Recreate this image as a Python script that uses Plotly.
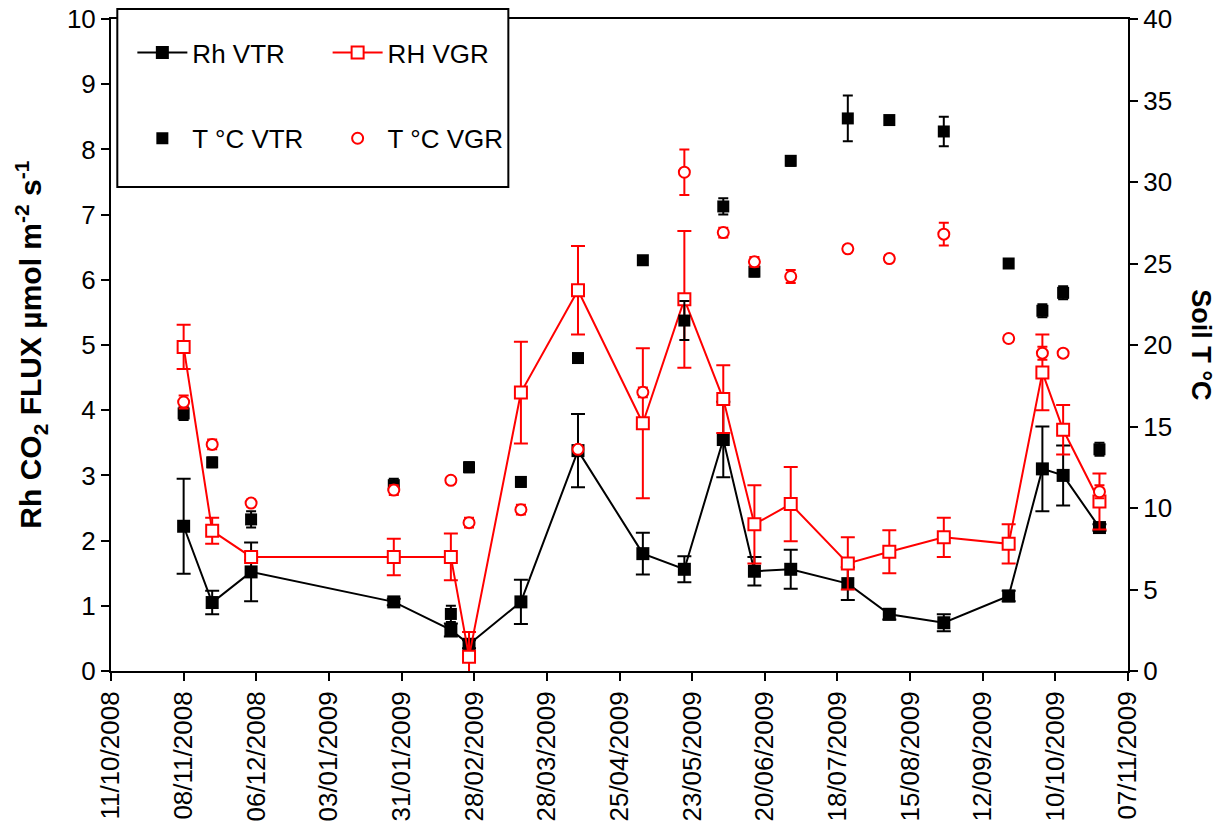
import plotly.graph_objects as go

# Sampling dates
dates = [
    "2008-11-08", "2008-11-19", "2008-12-04", "2009-01-28", "2009-02-19",
    "2009-02-26", "2009-03-18", "2009-04-09", "2009-05-04", "2009-05-20",
    "2009-06-04", "2009-06-16", "2009-06-30", "2009-07-22", "2009-08-07",
    "2009-08-28", "2009-09-22", "2009-10-05", "2009-10-13", "2009-10-27",
]

# Heterotrophic respiration (µmol CO2 m-2 s-1) and standard errors
rh_vtr = [2.22, 1.05, 1.52, 1.06, 0.63, 0.41, 1.06, 3.38, 1.80, 1.56,
          3.55, 1.53, 1.56, 1.34, 0.87, 0.74, 1.15, 3.10, 3.00, 2.20]
rh_vtr_err = [0.73, 0.18, 0.45, 0.05, 0.10, 0.06, 0.34, 0.56, 0.32, 0.20,
              0.58, 0.22, 0.30, 0.25, 0.08, 0.13, 0.08, 0.65, 0.46, 0.05]
rh_vgr = [4.97, 2.15, 1.75, 1.75, 1.75, 0.22, 4.27, 5.84, 3.80, 5.70,
          4.17, 2.25, 2.56, 1.65, 1.83, 2.05, 1.95, 4.58, 3.70, 2.60]
rh_vgr_err = [0.34, 0.20, 0.05, 0.28, 0.36, 0.38, 0.78, 0.68, 1.15, 1.05,
              0.52, 0.60, 0.57, 0.40, 0.33, 0.30, 0.30, 0.58, 0.38, 0.43]

# Soil temperature (°C) and standard errors
t_vtr = [15.8, 12.8, 9.3, 11.4, 3.5, 12.5, 11.6, 19.2, 25.2, 21.5,
         28.5, 24.5, 31.3, 33.9, 33.8, 33.1, 25.0, 22.1, 23.2, 13.6]
t_vtr_err = [0.4, 0.3, 0.5, 0.4, 0.5, 0.3, 0.3, 0.2, 0.2, 1.2,
             0.5, 0.3, 0.3, 1.4, 0.2, 0.9, 0.2, 0.4, 0.4, 0.4]
t_vgr = [16.5, 13.9, 10.3, 11.1, 11.7, 9.1, 9.9, 13.6, 17.1, 30.6,
         26.9, 25.1, 24.2, 25.9, 25.3, 26.8, 20.4, 19.5, 19.5, 11.0]
t_vgr_err = [0.4, 0.3, 0.2, 0.3, 0.2, 0.3, 0.3, 0.2, 0.3, 1.4,
             0.3, 0.3, 0.4, 0.2, 0.2, 0.7, 0.2, 0.4, 0.2, 0.4]

FONT = "Liberation Sans, Arial, sans-serif"
RED = "#ff0000"
BLACK = "#000000"


def err(vals, color, width=7):
    return dict(type="data", array=vals, visible=True, color=color,
                thickness=2, width=width)


fig = go.Figure()

fig.add_trace(go.Scatter(
    x=dates, y=rh_vtr, name="Rh VTR", mode="lines+markers",
    line=dict(color=BLACK, width=2),
    marker=dict(symbol="square", size=13, color=BLACK),
    error_y=err(rh_vtr_err, BLACK),
    legend="legend", legendgroup="a",
))
fig.add_trace(go.Scatter(
    x=dates, y=rh_vgr, name="RH VGR", mode="lines+markers",
    line=dict(color=RED, width=2),
    marker=dict(symbol="square", size=12, color="white",
                line=dict(color=RED, width=2)),
    error_y=err(rh_vgr_err, RED),
    legend="legend2", legendgroup="b",
))
fig.add_trace(go.Scatter(
    x=dates, y=t_vtr, name="T °C VTR", mode="markers", yaxis="y2",
    marker=dict(symbol="square", size=12, color=BLACK),
    error_y=err(t_vtr_err, BLACK, 5),
    legend="legend", legendgroup="c",
))
fig.add_trace(go.Scatter(
    x=dates, y=t_vgr, name="T °C VGR", mode="markers", yaxis="y2",
    marker=dict(symbol="circle", size=11, color="white",
                line=dict(color=RED, width=2)),
    error_y=err(t_vgr_err, RED, 5),
    legend="legend2", legendgroup="d",
))

axis_common = dict(
    showline=True, linewidth=2, linecolor=BLACK,
    ticks="outside", ticklen=8, tickwidth=2, tickcolor=BLACK,
    showgrid=False, zeroline=False, automargin=False,
    tickfont=dict(family=FONT, size=26, color=BLACK),
)

legend_common = dict(
    bgcolor="rgba(0,0,0,0)", borderwidth=0,
    font=dict(family=FONT, size=26, color=BLACK),
    xanchor="left", yanchor="top", yref="paper",
    tracegroupgap=49, traceorder="grouped", itemwidth=50,
)

fig.update_layout(
    width=1218, height=824,
    margin=dict(l=111, r=90, t=19, b=153, autoexpand=False),
    paper_bgcolor="white", plot_bgcolor="white",
    font=dict(family=FONT, color=BLACK),
    showlegend=True,
    xaxis=dict(
        type="date", range=["2008-10-11", "2009-11-07"],
        tick0="2008-10-11", dtick=28 * 86400000,
        tickformat="%d/%m/%Y", tickangle=-90,
        mirror=True, **axis_common,
    ),
    yaxis=dict(range=[0, 10], dtick=1, **axis_common),
    yaxis2=dict(range=[0, 40], dtick=5, overlaying="y", side="right",
                **axis_common),
    legend=dict(x=0.021, y=0.9846, **legend_common),
    legend2=dict(x=0.213, y=0.9846, **legend_common),
    shapes=[dict(
        type="rect", xref="paper", yref="paper",
        x0=0.0062, x1=0.3907, y0=0.7423, y1=1.0153,
        line=dict(color=BLACK, width=2), fillcolor="white", layer="above",
    )],
    annotations=[
        dict(text="<b>Rh CO<sub>2</sub> FLUX µmol m<sup>-2</sup> s<sup>-1</sup></b>",
             xref="paper", yref="paper", x=-0.079, y=0.5,
             xanchor="center", yanchor="middle", textangle=-90,
             showarrow=False, font=dict(family=FONT, size=30, color=BLACK)),
        dict(text="<b>Soil T °C</b>",
             xref="paper", yref="paper", x=1.0715, y=0.5,
             xanchor="center", yanchor="middle", textangle=90,
             showarrow=False, font=dict(family=FONT, size=27, color=BLACK)),
    ],
)

fig.write_html("out.html")
